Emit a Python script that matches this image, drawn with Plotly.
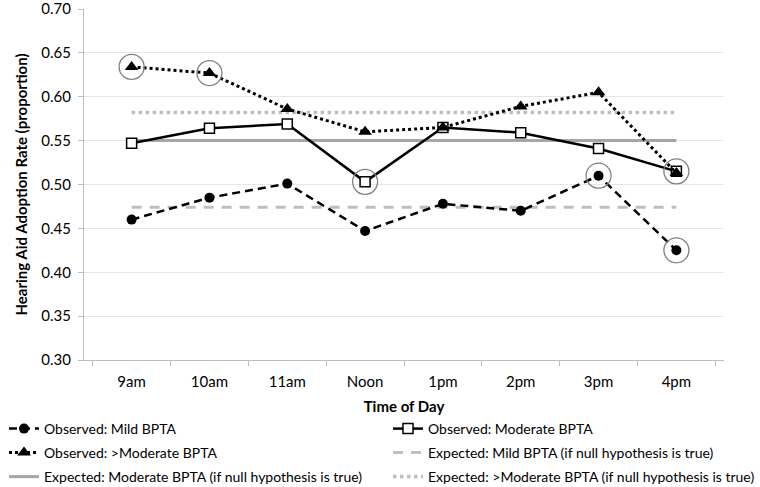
import plotly.graph_objects as go

times = ["9am", "10am", "11am", "Noon", "1pm", "2pm", "3pm", "4pm"]
obs_mild = [0.460, 0.485, 0.501, 0.447, 0.478, 0.470, 0.510, 0.425]
obs_moderate = [0.547, 0.564, 0.569, 0.503, 0.565, 0.559, 0.541, 0.515]
obs_gt_moderate = [0.634, 0.627, 0.586, 0.560, 0.565, 0.589, 0.605, 0.513]
exp_mild = 0.474
exp_moderate = 0.550
exp_gt_moderate = 0.582
# indices of points circled in the reference
circled_mild = [6, 7]
circled_moderate = [3, 7]
circled_gt_moderate = [0, 1]

FONT = "Lato"
fig = go.Figure()

# expected lines first (drawn underneath)
fig.add_trace(go.Scatter(x=times, y=[exp_mild] * len(times), name="Expected: Mild BPTA (if null hypothesis is true)",
                         mode="lines", line=dict(color="#bfbfbf", width=3, dash="10px,8px"),
                         legend="legend4"))
fig.add_trace(go.Scatter(x=times, y=[exp_moderate] * len(times), name="Expected: Moderate BPTA (if null hypothesis is true)",
                         mode="lines", line=dict(color="#a6a6a6", width=3),
                         legend="legend5"))
fig.add_trace(go.Scatter(x=times, y=[exp_gt_moderate] * len(times), name="Expected: >Moderate BPTA (if null hypothesis is true)",
                         mode="lines", line=dict(color="#bfbfbf", width=3.5, dash="dot"),
                         legend="legend6"))

fig.add_trace(go.Scatter(x=times, y=obs_mild, name="Observed: Mild BPTA", mode="lines+markers",
                         line=dict(color="black", width=2.5, dash="8px,5px"),
                         marker=dict(symbol="circle", size=10, color="black"),
                         legend="legend"))
fig.add_trace(go.Scatter(x=times, y=obs_moderate, name="Observed: Moderate BPTA", mode="lines+markers",
                         line=dict(color="black", width=2.5),
                         marker=dict(symbol="square", size=10, color="white", line=dict(color="black", width=1.5)),
                         legend="legend2"))
fig.add_trace(go.Scatter(x=times, y=obs_gt_moderate, name="Observed: >Moderate BPTA", mode="lines+markers",
                         line=dict(color="black", width=3, dash="dot"),
                         marker=dict(symbol="triangle-up", size=12, color="black"),
                         legend="legend3"))

cx, cy = [], []
for idx, vals in ((circled_mild, obs_mild), (circled_moderate, obs_moderate), (circled_gt_moderate, obs_gt_moderate)):
    for i in idx:
        cx.append(times[i]); cy.append(vals[i])
fig.add_trace(go.Scatter(x=cx, y=cy, mode="markers", showlegend=False, hoverinfo="skip",
                         marker=dict(symbol="circle-open", size=25, color="#808080", line=dict(width=1.3))))

plot_w = 640.0
plot_h = 351.0
plot_bottom = 360

def leg(left_px, row_center):
    return dict(orientation="h", x=(left_px - 84) / plot_w, xanchor="left",
                y=-(row_center - plot_bottom) / plot_h, yanchor="middle",
                font=dict(family=FONT, size=14), itemwidth=30, bgcolor="rgba(0,0,0,0)")

fig.update_layout(
    width=760, height=487,
    margin=dict(l=84, r=36, t=9, b=127, autoexpand=False),
    paper_bgcolor="white", plot_bgcolor="white",
    font=dict(family=FONT, size=14, color="black"),
    showlegend=True,
    legend=leg(4, 429), legend2=leg(388, 429),
    legend3=leg(4, 453), legend4=leg(388, 453),
    legend5=leg(4, 477), legend6=leg(388, 477),
    xaxis=dict(type="category", categoryorder="array", categoryarray=times,
               showline=True, linecolor="#bfbfbf", linewidth=1,
               ticks="outside", tickson="boundaries", ticklen=5, tickcolor="#bfbfbf",
               showgrid=False, tickfont=dict(size=15), ticklabelstandoff=8,
               title=dict(text="<b>Time of Day</b>", font=dict(size=15), standoff=12)),
    yaxis=dict(range=[0.30, 0.70], dtick=0.05, tickformat=".2f", ticklabeloverflow="allow",
               showline=True, linecolor="#bfbfbf", linewidth=1,
               ticks="outside", ticklen=5, tickcolor="#bfbfbf", ticklabelstandoff=4,
               showgrid=True, gridcolor="#e6e6e6", zeroline=False, tickfont=dict(size=15),
               title=dict(text="<b>Hearing Aid Adoption Rate (proportion)</b>", font=dict(size=15), standoff=10)),
)

fig.write_html("out.html", config={"displayModeBar": False},
               post_script="document.body.style.margin='0';")
